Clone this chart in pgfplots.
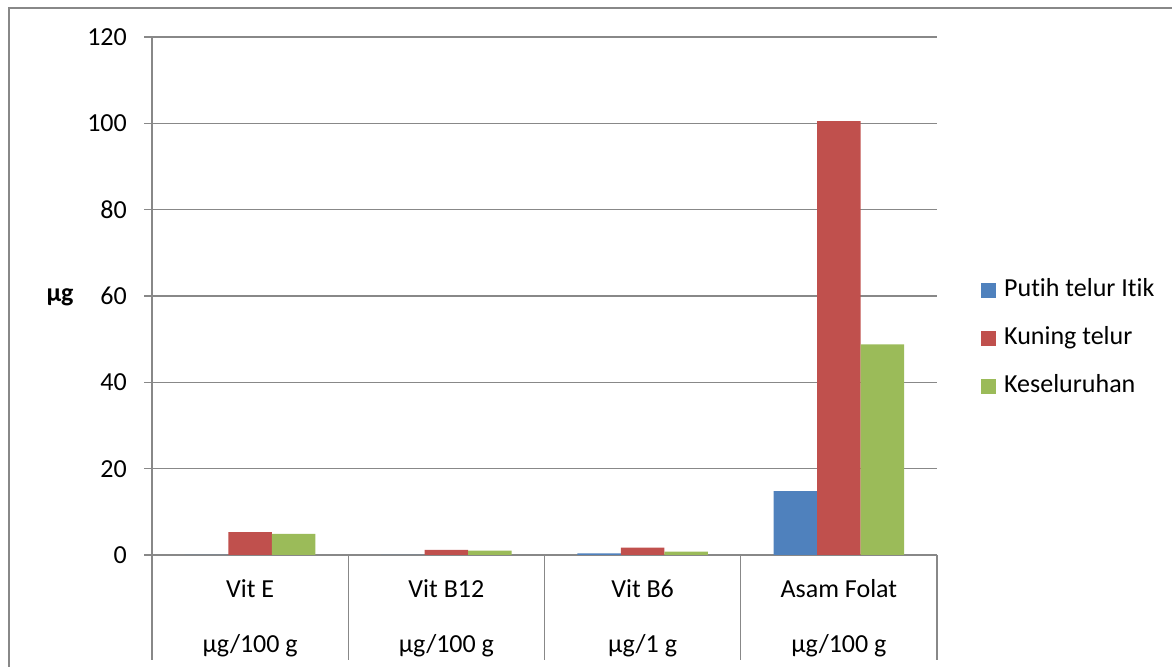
\documentclass[border=0pt]{standalone}
\usepackage{pgfplots}
\pgfplotsset{compat=1.18}
\usepackage{fontspec}
\setmainfont{Carlito}[Ligatures={NoCommon}]

\definecolor{putih}{HTML}{4F81BD}
\definecolor{kuning}{HTML}{C0504D}
\definecolor{semua}{HTML}{9BBB59}
\definecolor{linegray}{HTML}{888888}

\newcommand{\chartfont}{\fontsize{26bp}{31bp}\selectfont}

\begin{document}
\chartfont
\begin{tikzpicture}[x=1bp,y=1bp]
\useasboundingbox (0,0) rectangle (1172,667);
\clip (0,0) rectangle (1172,667);
% chart frame
\draw[linegray, line width=1.3bp] (9,-20) -- (9,659) -- (1200,659);

\begin{axis}[
  at={(152bp,112bp)}, anchor=south west,
  scale only axis, width=785bp, height=518bp,
  xmin=-0.5, xmax=3.5, ymin=0, ymax=120,
  ybar=0pt, bar width=43.5bp,
  axis lines*=left,
  axis line style={linegray, line width=1.3bp},
  ytick={0,20,...,120},
  ymajorgrids, grid style={linegray, line width=1.3bp},
  y axis line style={-},
  x axis line style={-},
  tick style={linegray, line width=1.3bp},
  ytick align=outside, major tick length=8bp,
  /pgf/number format/assume math mode=true,
  yticklabel style={font=\chartfont, anchor=east, inner sep=0pt, xshift=-17bp},
  xtick={0,1,2,3},
  xticklabels={{Vit E\\[24bp]µg/100 g},{Vit B12\\[24bp]µg/100 g},{Vit B6\\[24bp]µg/1 g},{Asam Folat\\[24bp]µg/100 g}},
  xticklabel style={font=\chartfont, align=center, anchor=north, inner sep=0pt, yshift=-16bp},
  xtick style={draw=none},
  clip=false,
  legend style={draw=none, fill=none, at={(1.0522,0.417)}, anchor=west,
    font=\chartfont,
    nodes={inner sep=0pt, text height=18bp, text depth=6bp},
    row sep=24bp, legend cell align=left,
    /tikz/every odd column/.append style={column sep=8bp}},
  legend image code/.code={\fill[#1,draw=none] (0bp,-7.5bp) rectangle (15bp,7.5bp);},
]
\addplot[fill=putih, draw=none] coordinates {(0,0) (1,0) (2,0.4) (3,14.8)};
\addplot[fill=kuning, draw=none] coordinates {(0,5.3) (1,1.2) (2,1.7) (3,100.5)};
\addplot[fill=semua, draw=none] coordinates {(0,4.9) (1,1.0) (2,0.8) (3,48.8)};
\legend{Putih telur Itik, Kuning telur, Keseluruhan}
% category separators below the baseline
\pgfplotsinvokeforeach{-0.5,0.5,1.5,2.5,3.5}{
  \draw[linegray, line width=1.3bp] (axis cs:#1,0) -- ++(0pt,-105bp);
}
\end{axis}

\node[font=\bfseries\chartfont] at (60,370) {µg};
\end{tikzpicture}
\end{document}
